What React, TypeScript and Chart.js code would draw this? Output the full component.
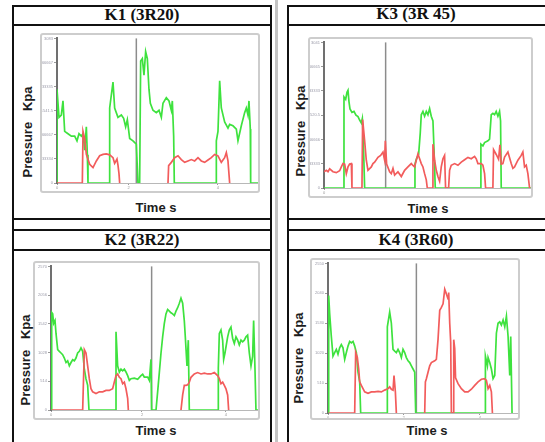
import { useEffect, useRef } from "react";
import { Chart, registerables } from "chart.js";
Chart.register(...registerables);

type Pt = [number, number | null];

// ---------- K1 (3R20) ----------
const k1Green: Pt[] = [[0,0],[0,2000],[0.056,1400],[0.121,1450],[0.167,1750],[0.214,1100],[0.307,1050],[0.4,1000],[0.493,1000],[0.558,900],[0.614,1050],[0.679,1000],[0.726,1050],[0.772,700],[0.819,1200],[0.847,600],[0.865,0],[1.47,0],[1.47,1600],[1.563,2150],[1.609,1600],[1.702,1400],[1.795,1450],[1.86,1380],[1.916,1200],[1.963,1350],[2.028,950],[2.121,900],[2.214,830],[2.26,0],[2.307,0],[2.335,2600],[2.381,2650],[2.428,2300],[2.474,2800],[2.521,2650],[2.567,2000],[2.605,1700],[2.679,1550],[2.772,1500],[2.847,1550],[2.912,1400],[2.958,1700],[3.051,1820],[3.126,1750],[3.191,1550],[3.219,1750],[3.256,1000],[3.274,0],[4.447,0],[4.447,900],[4.493,1100],[4.54,2180],[4.586,1600],[4.679,1300],[4.772,1170],[4.819,1250],[4.912,1220],[5.005,1150],[5.051,900],[5.144,1220],[5.237,1500],[5.284,1600],[5.33,1450],[5.358,1750],[5.395,1150],[5.405,0],[5.61,0]];
const k1Red: Pt[] = [[0,0],[0.707,0],[0.726,1100],[0.772,950],[0.819,610],[0.912,400],[1.005,330],[1.098,470],[1.191,580],[1.284,610],[1.377,620],[1.47,600],[1.563,540],[1.609,420],[1.674,510],[1.702,380],[1.73,200],[1.749,0],[2.5,null],[3.098,0],[3.116,370],[3.191,440],[3.284,540],[3.377,580],[3.47,500],[3.563,440],[3.656,470],[3.749,500],[3.842,470],[3.935,540],[4.028,470],[4.121,440],[4.214,490],[4.307,540],[4.4,610],[4.493,580],[4.586,440],[4.679,540],[4.726,650],[4.772,470],[4.819,0]];
const k1Markers = [2.214];
const k1TickValues = [0, 2, 4.49];
const k1TickLabels = ["0", "2", "4"];

// ---------- K3 (3R 45) ----------
const k3Green: Pt[] = [[0,0],[0.549,0],[0.558,1900],[0.605,1850],[0.642,2000],[0.67,2040],[0.698,1800],[0.726,1650],[0.781,1580],[0.837,1600],[0.893,1520],[0.949,1490],[0.995,1420],[1.042,1360],[1.07,1450],[1.098,985],[1.135,0],[2.53,0],[2.54,500],[2.577,600],[2.642,700],[2.688,1150],[2.716,1530],[2.763,1600],[2.809,1500],[2.856,1600],[2.902,1530],[2.949,1660],[2.995,1500],[3.042,1400],[3.07,850],[3.107,0],[4.372,0],[4.381,915],[4.437,880],[4.484,950],[4.577,985],[4.623,1020],[4.67,1530],[4.716,1560],[4.763,1530],[4.809,1600],[4.856,1500],[4.902,1600],[4.93,1400],[4.949,0],[5.78,0]];
const k3Red: Pt[] = [[0,340],[0.065,370],[0.112,340],[0.158,400],[0.251,340],[0.344,320],[0.437,360],[0.484,440],[0.53,510],[0.577,500],[0.623,300],[0.67,440],[0.716,500],[0.763,510],[0.781,0],[1.06,0],[1.079,1430],[1.135,985],[1.181,580],[1.228,370],[1.321,440],[1.367,510],[1.414,540],[1.507,640],[1.581,680],[1.647,750],[1.693,580],[1.712,985],[1.749,500],[1.833,340],[1.879,300],[1.926,410],[1.972,270],[2.065,340],[2.158,240],[2.251,370],[2.344,440],[2.437,510],[2.484,470],[2.53,440],[2.577,580],[2.623,710],[2.67,610],[2.716,510],[2.763,440],[2.809,300],[2.856,170],[2.884,0],[3.033,0],[3.042,915],[3.088,580],[3.135,370],[3.181,240],[3.228,140],[3.274,440],[3.321,610],[3.367,680],[3.395,0],[3.479,0],[3.507,370],[3.553,475],[3.647,510],[3.74,475],[3.833,540],[3.926,590],[4.019,640],[4.112,610],[4.205,660],[4.251,610],[4.298,510],[4.391,510],[4.437,475],[4.484,300],[4.512,0],[4.716,0],[4.735,800],[4.809,700],[4.874,600],[4.912,900],[4.949,500],[4.995,510],[5.042,645],[5.135,750],[5.228,510],[5.274,410],[5.321,440],[5.414,580],[5.507,680],[5.553,750],[5.6,440],[5.647,475],[5.693,300],[5.74,0]];
const k3Markers = [1.721];
const k3TickValues = [0];
const k3TickLabels = ["0"];

// ---------- K2 (3R22) ----------
const k2Green: Pt[] = [[0.015,0],[0.015,1745],[0.037,1720],[0.059,1550],[0.088,1600],[0.11,1370],[0.147,1080],[0.183,1050],[0.22,1020],[0.256,990],[0.293,930],[0.33,850],[0.366,880],[0.403,790],[0.44,850],[0.476,900],[0.513,880],[0.549,930],[0.586,1020],[0.623,1050],[0.659,1110],[0.696,1050],[0.733,730],[0.769,560],[0.806,440],[0.835,0],[1.429,0],[1.429,1400],[1.465,790],[1.502,680],[1.538,730],[1.575,700],[1.612,730],[1.648,680],[1.685,615],[1.722,530],[1.758,560],[1.832,570],[1.905,550],[1.978,615],[2.015,640],[2.051,590],[2.125,590],[2.161,530],[2.198,905],[2.212,0],[2.308,0],[2.344,325],[2.381,670],[2.418,1020],[2.454,1310],[2.491,1550],[2.527,1720],[2.564,1800],[2.601,1770],[2.637,1740],[2.674,1720],[2.711,1690],[2.747,1770],[2.784,1830],[2.821,1910],[2.857,2000],[2.894,1910],[2.93,1600],[2.952,1310],[2.989,790],[3.018,1250],[3.04,0],[3.678,0],[3.678,750],[3.7,1370],[3.736,1430],[3.773,1250],[3.795,905],[3.824,1020],[3.883,1310],[3.919,1430],[3.956,1485],[3.993,1280],[4.029,1190],[4.066,1310],[4.103,1250],[4.139,1165],[4.176,1250],[4.212,1220],[4.249,1250],[4.286,1310],[4.322,1340],[4.359,1020],[4.396,790],[4.432,960],[4.454,1600],[4.484,730],[4.505,0],[4.557,0]];
const k2Red: Pt[] = [[0.015,0],[0.696,0],[0.733,1080],[0.769,1020],[0.806,790],[0.842,560],[0.879,380],[0.916,325],[0.989,295],[1.062,325],[1.136,325],[1.209,350],[1.282,350],[1.355,380],[1.392,500],[1.429,615],[1.465,645],[1.502,585],[1.538,560],[1.575,470],[1.612,500],[1.648,380],[1.685,210],[1.7,0],[2.3,null],[2.857,0],[2.894,270],[2.93,440],[2.967,440],[3.004,450],[3.04,500],[3.077,585],[3.15,645],[3.223,670],[3.297,645],[3.37,660],[3.443,645],[3.516,645],[3.59,670],[3.663,615],[3.7,560],[3.736,470],[3.773,500],[3.81,440],[3.846,380],[3.883,270],[3.905,0]];
const k2Markers = [2.212];
const k2TickValues = [0, 2, 3.846];
const k2TickLabels = ["0", "2", "4"];

// ---------- K4 (3R60) ----------
const k4Green: Pt[] = [[0.018,0],[0.018,2000],[0.044,1695],[0.088,1305],[0.132,970],[0.176,1030],[0.22,1085],[0.264,1000],[0.308,1110],[0.352,1165],[0.396,1110],[0.441,915],[0.485,1030],[0.529,1140],[0.573,1220],[0.617,1195],[0.661,1220],[0.705,1140],[0.749,1030],[0.793,695],[0.837,530],[0.863,0],[1.568,0],[1.568,1470],[1.63,1720],[1.674,1530],[1.718,1085],[1.762,1055],[1.806,1030],[1.85,1085],[1.894,1030],[1.938,945],[1.982,1085],[2.026,1030],[2.07,945],[2.115,890],[2.159,860],[2.203,805],[2.247,750],[2.291,695],[2.317,0],[4.159,0],[4.159,970],[4.211,805],[4.229,945],[4.273,860],[4.317,750],[4.361,585],[4.405,640],[4.449,1360],[4.493,1530],[4.537,1555],[4.581,1500],[4.626,1585],[4.67,1470],[4.714,1650],[4.758,1305],[4.802,640],[4.828,1305],[4.863,0]];
const k4Red: Pt[] = [[0.018,0],[0.705,0],[0.731,1030],[0.775,945],[0.811,750],[0.837,530],[0.881,470],[0.925,415],[0.969,360],[1.057,335],[1.145,360],[1.233,360],[1.322,370],[1.41,360],[1.498,390],[1.586,415],[1.63,445],[1.674,405],[1.718,390],[1.744,640],[1.78,360],[1.806,0],[2.2,null],[2.555,0],[2.573,530],[2.599,585],[2.643,695],[2.687,805],[2.731,860],[2.819,890],[2.863,915],[2.907,1250],[2.952,1750],[2.996,1800],[3.04,1860],[3.084,2110],[3.128,2030],[3.172,1945],[3.189,2055],[3.216,1530],[3.242,1200],[3.26,0],[3.304,0],[3.322,1250],[3.348,1100],[3.37,600],[3.436,500],[3.524,415],[3.612,360],[3.7,360],[3.789,405],[3.877,470],[3.965,530],[4.053,575],[4.141,585],[4.185,555],[4.229,415],[4.273,470],[4.317,360],[4.344,0]];
const k4Markers = [2.335];
const k4TickValues = [0, 2, 4.01];
const k4TickLabels = ["0", "2", "4"];

const GREEN = "#3ee23e";
const RED = "#f25c5c";

const markerPlugin = {
  id: "markers",
  beforeDatasetsDraw(chart: any, _args: any, opts: any) {
    const { ctx, chartArea, scales } = chart;
    const x = scales.x;
    ctx.save();
    ctx.strokeStyle = "#8c8c8c";
    ctx.lineWidth = 1.5;
    for (const t of opts.times || []) {
      const px = x.getPixelForValue(t);
      ctx.beginPath();
      ctx.moveTo(px, chartArea.top);
      ctx.lineTo(px, chartArea.bottom);
      ctx.stroke();
    }
    ctx.restore();
  },
};

const toXY = (pts: Pt[]) => pts.map(([x, y]) => ({ x, y }));

type PanelCfg = {
  title: string;
  cell: { left: number; width: number; titleY: number };
  frame: { left: number; top: number; width: number; height: number };
  yw: number;
  xh: number;
  yMax: number;
  tMax: number;
  green: Pt[];
  red: Pt[];
  markers: number[];
  tickValues: number[];
  tickLabels: string[];
  pressure: { x: number; y: number };
  time: { x: number; y: number };
};

function ChartPanel({ cfg }: { cfg: PanelCfg }) {
  const ref = useRef<HTMLCanvasElement | null>(null);
  const w = cfg.frame.width - 4;
  const h = cfg.frame.height - 4;
  useEffect(() => {
    if (!ref.current) return;
    const tickFont = { size: 4, family: "Liberation Sans" };
    const chart = new Chart(ref.current, {
      type: "line",
      data: {
        datasets: [
          { data: toXY(cfg.red) as any, borderColor: RED, borderWidth: 1.7, pointRadius: 0, tension: 0, spanGaps: false, order: 0 },
          { data: toXY(cfg.green) as any, borderColor: GREEN, borderWidth: 1.7, pointRadius: 0, tension: 0, spanGaps: false, order: 1 },
        ],
      },
      options: {
        animation: false,
        responsive: false,
        maintainAspectRatio: false,
        layout: { padding: 0 },
        plugins: { legend: { display: false }, tooltip: { enabled: false }, markers: { times: cfg.markers } } as any,
        scales: {
          x: {
            type: "linear",
            min: 0,
            max: cfg.tMax,
            afterFit: (s: any) => { s.height = cfg.xh; },
            afterBuildTicks: (s: any) => { s.ticks = cfg.tickValues.map((v) => ({ value: v })); },
            ticks: { font: tickFont, color: "#9a9a9a", padding: 0, maxRotation: 0, autoSkip: false, callback: (_v: any, i: number) => cfg.tickLabels[i] },
            grid: { display: true, drawOnChartArea: false, tickLength: 2, color: "#9a9a9a" },
            border: { display: true, color: "#b8b8b8", width: 1 },
          },
          y: {
            type: "linear",
            min: 0,
            max: cfg.yMax,
            afterFit: (s: any) => { s.width = cfg.yw; },
            ticks: { stepSize: 500, includeBounds: false, font: tickFont, color: "#9a9aa8", padding: 1, callback: (v: any) => String(v) },
            grid: { display: true, drawOnChartArea: false, tickLength: 3, color: "#9a9a9a" },
            border: { display: true, color: "#707070", width: 2 },
          },
        },
      } as any,
      plugins: [markerPlugin],
    });
    return () => chart.destroy();
  }, [cfg]);

  const labelFont = { fontFamily: "'Liberation Sans', Arial, sans-serif", fontWeight: 700, fontSize: 13, color: "#1c1c1c" };
  return (
    <>
      <div style={{ position: "absolute", left: cfg.cell.left, width: cfg.cell.width, top: cfg.cell.titleY - 10, height: 20, lineHeight: "20px", textAlign: "center", fontFamily: "'Liberation Serif', 'Times New Roman', serif", fontWeight: 700, fontSize: 17, color: "#111" }}>
        {cfg.title}
      </div>
      <div style={{ position: "absolute", left: cfg.frame.left, top: cfg.frame.top, width: cfg.frame.width, height: cfg.frame.height, boxSizing: "border-box", border: "2px solid #cdcdcd", borderRadius: 3 }}>
        <canvas ref={ref} width={w} height={h} style={{ display: "block", width: w, height: h }} />
      </div>
      <div style={{ position: "absolute", left: cfg.pressure.x, top: cfg.pressure.y, transform: "translate(-50%, -50%) rotate(-90deg)", whiteSpace: "pre", ...labelFont }}>
        {"Pressure   Kpa"}
      </div>
      <div style={{ position: "absolute", left: cfg.time.x, top: cfg.time.y, transform: "translate(-50%, -50%)", whiteSpace: "pre", ...labelFont }}>
        {"Time s"}
      </div>
    </>
  );
}

const panels: PanelCfg[] = [
  {
    title: "K1 (3R20)", cell: { left: 12, width: 260, titleY: 15 },
    frame: { left: 40, top: 33, width: 220, height: 160 }, yw: 15, xh: 8, yMax: 3083, tMax: 5.61,
    green: k1Green, red: k1Red, markers: k1Markers, tickValues: k1TickValues, tickLabels: k1TickLabels,
    pressure: { x: 27, y: 132 }, time: { x: 156, y: 207 },
  },
  {
    title: "K3 (3R 45)", cell: { left: 287, width: 258, titleY: 14 },
    frame: { left: 308, top: 37, width: 225, height: 161 }, yw: 14, xh: 8, yMax: 3041, tMax: 5.78,
    green: k3Green, red: k3Red, markers: k3Markers, tickValues: k3TickValues, tickLabels: k3TickLabels,
    pressure: { x: 300, y: 131 }, time: { x: 428, y: 208 },
  },
  {
    title: "K2 (3R22)", cell: { left: 12, width: 260, titleY: 240 },
    frame: { left: 33, top: 261, width: 227, height: 159 }, yw: 16, xh: 8, yMax: 2570, tMax: 4.55,
    green: k2Green, red: k2Red, markers: k2Markers, tickValues: k2TickValues, tickLabels: k2TickLabels,
    pressure: { x: 25, y: 360 }, time: { x: 156, y: 430 },
  },
  {
    title: "K4 (3R60)", cell: { left: 287, width: 258, titleY: 240 },
    frame: { left: 310, top: 258, width: 210, height: 162 }, yw: 16, xh: 5, yMax: 2550, tMax: 5.02,
    green: k4Green, red: k4Red, markers: k4Markers, tickValues: k4TickValues, tickLabels: k4TickLabels,
    pressure: { x: 298, y: 358 }, time: { x: 427, y: 430 },
  },
];

const hLines = [5, 24, 218, 229, 249];

export default function App() {
  const line = (s: any) => <div style={{ position: "absolute", background: "#111", ...s }} />;
  return (
    <div style={{ position: "absolute", left: 0, top: 0, width: 545, height: 442, background: "#fff", overflow: "hidden" }}>
      <div style={{ position: "absolute", left: 275, top: 0, width: 3, height: 442, background: "#c4c4c4" }} />
      {line({ left: 12, top: 5, width: 2, height: 437 })}
      {line({ left: 270, top: 5, width: 2, height: 437 })}
      {line({ left: 287, top: 5, width: 2, height: 437 })}
      {hLines.map((y) => (
        <div key={"l" + y}>
          {line({ left: 12, top: y, width: 260, height: 2 })}
          {line({ left: 287, top: y, width: 258, height: 2 })}
        </div>
      ))}
      {panels.map((p) => (
        <ChartPanel key={p.title} cfg={p} />
      ))}
    </div>
  );
}
